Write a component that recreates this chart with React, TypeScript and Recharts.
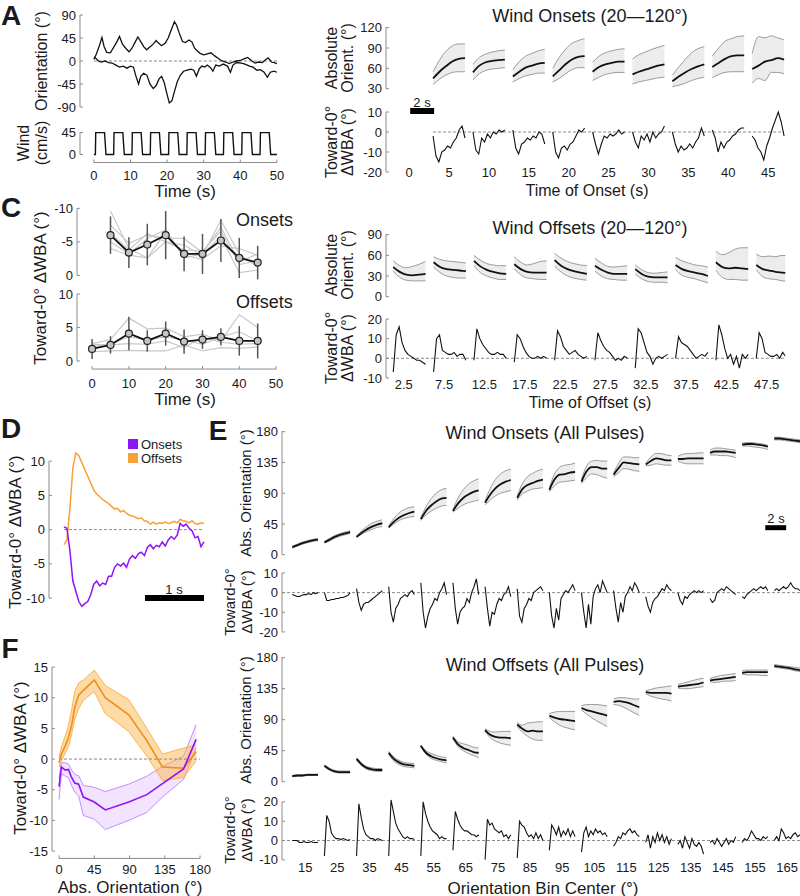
import React from "react";
import { ComposedChart, Line, Area, XAxis, YAxis, ReferenceLine, ErrorBar } from "recharts";

const FONT = "'Liberation Sans', Arial, Helvetica, sans-serif";
const INK = "#1a1a1a";
const AX = "#8c8c8c";
const DASH = "#8a8a8a";
const PURPLE = "#8f14f5";
const ORANGE = "#f8a03a";
const PAD = 40;
const YW = 44;

// ---- A: example trial (time s, orientation deg) ----
const TRACE_UP: [number, number][] = [
  [0, 3], [0.7, 14], [1.5, 30], [2.2, 46], [2.8, 28], [3.5, 17], [4.5, 16], [5.5, 28], [6.3, 38], [7, 48],
  [7.8, 33], [8.8, 24], [9.6, 18], [10.4, 25], [11.2, 36], [12, 47], [12.8, 38], [13.6, 28], [14.4, 22], [15.2, 27],
  [16.2, 33], [17, 40], [17.5, 36], [18.5, 30], [19.5, 35], [20.3, 45], [21.2, 62], [22, 77], [22.6, 70], [23.3, 55],
  [24.2, 38], [25, 36], [26, 41], [26.8, 37], [27.5, 25], [28.2, 20], [29, 15], [30, 12], [31, 14], [32, 16],
  [33, 10], [34, 5], [35, 0], [36, -2], [37, -5], [38, -2], [39, 0], [40, 1], [41, 4], [42, 7],
  [43, 1], [44, -4], [45, -2], [46, -3], [47, 3], [47.6, 6], [48.5, -2], [49.3, -3], [50, -5],
];
const TRACE_DOWN: [number, number][] = [
  [0, 8], [0.6, 5], [1.2, 0], [2, -2], [3, 0], [4, -3], [5, -4], [6, -8], [7, -12], [8, -10],
  [9, -14], [10, -10], [10.8, -12], [11.5, -30], [12.2, -45], [12.8, -30], [13.6, -24], [14.5, -28], [15.3, -45], [16.2, -54],
  [17, -48], [17.8, -35], [18.5, -30], [19.2, -42], [19.8, -60], [20.6, -82], [21.3, -78], [22, -60], [22.8, -40], [23.6, -28],
  [24.5, -20], [25.5, -18], [26.5, -16], [27.3, -18], [28, -30], [28.8, -15], [29.5, -10], [30.3, -12], [31, -8], [32, -14],
  [32.5, -20], [33.3, -8], [34.3, -10], [35.3, -6], [36.5, -10], [37.3, -22], [38, -8], [39, -3], [40.3, -4], [41.3, -6],
  [42.5, -10], [43.5, -12], [44.5, -18], [45.5, -17], [46.5, -22], [47.4, -32], [48.2, -22], [49.2, -20], [50, -22],
];
const WIND: [number, number][] = [
  [0, 0], [0.4, 0], [0.5, 45], [2.9, 45], [3.3, 0],
  [5.4, 0], [5.5, 45], [7.9, 45], [8.3, 0],
  [10.4, 0], [10.5, 45], [12.9, 45], [13.3, 0],
  [15.4, 0], [15.5, 45], [17.9, 45], [18.3, 0],
  [20.4, 0], [20.5, 45], [22.9, 45], [23.3, 0],
  [25.4, 0], [25.5, 45], [27.9, 45], [28.3, 0],
  [30.4, 0], [30.5, 45], [32.9, 45], [33.3, 0],
  [35.4, 0], [35.5, 45], [37.9, 45], [38.3, 0],
  [40.4, 0], [40.5, 45], [42.9, 45], [43.3, 0],
  [45.4, 0], [45.5, 45], [47.9, 45], [48.3, 0], [50, 0],
];

// ---- A right: wind onsets 20-120 deg ----
const ON20_T = [5, 10, 15, 20, 25, 30, 35, 40, 45];
const ON20_M = [
  [45, 55, 63, 70, 74, 75], [54, 64, 69, 71, 72, 73], [48, 55, 61, 64, 67, 68],
  [48, 57, 66, 73, 77, 78], [55, 62, 66, 68, 70, 70], [51, 55, 58, 61, 64, 66],
  [41, 48, 54, 59, 63, 66], [62, 68, 74, 78, 79, 79], [59, 64, 70, 72, 75, 73],
];
const ON20_HI = [
  [55, 72, 85, 93, 96, 96], [66, 76, 81, 84, 86, 87], [58, 70, 78, 82, 86, 88],
  [60, 76, 88, 97, 101, 104], [69, 78, 83, 86, 88, 89], [74, 80, 84, 88, 91, 94],
  [50, 62, 73, 83, 89, 92], [78, 90, 100, 104, 107, 108], [82, 107, 105, 108, 105, 102],
];
const ON20_LO = [
  [36, 44, 50, 54, 55, 55], [43, 52, 57, 59, 60, 61], [40, 45, 49, 51, 53, 53],
  [40, 45, 52, 58, 61, 61], [42, 47, 51, 53, 54, 54], [37, 40, 42, 44, 46, 47],
  [33, 35, 38, 42, 45, 47], [46, 51, 54, 55, 55, 55], [38, 45, 42, 54, 54, 52],
];
const ON20_WBA = [
  [-2, -12, -15, -10, -9, -7, -8, -5, -3, 1, 3, -3],
  [0, -9, -11, -3, -5, -1, -3, 0, -1, 1, 0, 1],
  [1, -8, -11, -6, -5, -3, -4, -2, -3, 0, -1, -6],
  [0, -10, -13, -8, -7, -9, -6, -5, -2, 1, 0, 2],
  [0, -6, -11, -6, -2, -3, -1, -2, -1, 1, -1, 0],
  [0, -5, -8, -2, -4, -1, -5, 0, -3, -1, 0, 3],
  [0, -6, -10, -7, -9, -8, -6, -8, -5, -3, 2, -2],
  [1, -3, -10, -5, -8, -5, -4, -2, -1, 1, 2, 2],
  [-2, -4, -8, -10, -14, -7, -3, 2, 6, 10, 5, -2],
];

// ---- C right: wind offsets 20-120 deg ----
const OFF20_T = [2.5, 7.5, 12.5, 17.5, 22.5, 27.5, 32.5, 37.5, 42.5, 47.5];
const OFF20_M = [
  [43, 36, 32, 31, 32, 33], [50, 43, 40, 39, 38, 37], [52, 44, 39, 36, 34, 33],
  [47, 40, 36, 35, 35, 35], [53, 45, 40, 37, 35, 33], [45, 39, 35, 33, 33, 33],
  [40, 33, 29, 28, 28, 28], [46, 40, 37, 35, 33, 30], [50, 43, 41, 42, 41, 40],
  [46, 40, 38, 36, 35, 34],
];
const OFF20_HI = [
  [52, 45, 42, 44, 47, 51], [58, 54, 52, 51, 50, 49], [60, 53, 48, 46, 45, 45],
  [58, 50, 46, 48, 51, 52], [63, 56, 51, 48, 46, 45], [56, 49, 44, 43, 44, 45],
  [46, 39, 35, 34, 35, 36], [57, 52, 49, 46, 45, 43], [66, 61, 64, 69, 71, 71],
  [62, 58, 59, 58, 60, 59],
];
const OFF20_LO = [
  [37, 28, 24, 23, 23, 23], [43, 35, 30, 28, 27, 27], [45, 35, 30, 27, 25, 25],
  [40, 32, 27, 26, 25, 25], [44, 36, 30, 27, 25, 24], [37, 30, 26, 25, 24, 24],
  [33, 26, 22, 21, 21, 20], [39, 31, 28, 26, 23, 20], [38, 28, 25, 25, 24, 24],
  [39, 29, 26, 25, 23, 22],
];
const OFF20_WBA = [
  [-7, 12, 16, 8, 4, 2, 1, 0, -1, -1, -2, -3],
  [-7, 10, 12, 4, 3, 2, 2, 3, 1, 2, 2, -1],
  [-1, 15, 10, 7, 5, 3, 2, 2, 3, 2, 2, 0],
  [-2, 12, 10, 6, 3, 1, 0, 0, 1, 0, 1, 0],
  [-1, 14, 11, 6, 4, 2, 3, 4, 2, 1, 0, 1],
  [-1, 13, 9, 6, 4, 3, 1, -1, 0, -1, 1, 0],
  [-5, 15, 13, 8, 3, 1, -3, 0, 1, 0, 1, 2],
  [0, 11, 8, 7, 6, 4, 2, 0, 1, 2, 1, 3],
  [-1, 17, 12, 5, 0, 2, -3, 1, -5, 2, 0, 2],
  [0, 13, 10, 3, 2, 1, 1, 2, 0, 3, 1, 2],
];

// ---- C left: per-pulse means ----
const C_ON_T = [5, 10, 15, 20, 25, 30, 35, 40, 45];
const C_ON_MEAN = [-6.0, -3.4, -4.6, -6.0, -3.2, -3.2, -5.2, -2.6, -1.9];
const C_ON_ERR = [2.8, 2.3, 3.1, 3.6, 2.6, 3.0, 3.2, 3.0, 2.5];
const C_ON_FLIES = [
  [-9.6, -4.0, -2.6, -5.0, -4.5, -3.0, -8.2, -3.2, -1.2],
  [-7.5, -4.8, -6.0, -5.6, -5.5, -3.4, -7.2, -2.0, -3.2],
  [-4.0, -3.0, -2.6, -6.5, -3.0, -2.4, -4.4, -4.0, -3.0],
  [-5.0, -3.2, -5.5, -6.8, -2.6, -3.2, -5.8, -0.4, -0.8],
  [-6.3, -3.8, -6.2, -5.0, -3.8, -3.6, -6.6, -1.6, -2.2],
];
const C_OFF_T = [0, 5, 10, 15, 20, 25, 30, 35, 40, 45];
const C_OFF_MEAN = [1.8, 2.4, 4.1, 3.0, 4.1, 2.9, 3.2, 3.6, 3.0, 3.0];
const C_OFF_ERR = [1.5, 1.3, 2.5, 1.6, 1.8, 1.8, 1.4, 1.3, 2.2, 2.6];
const C_OFF_FLIES = [
  [2.6, 3.2, 6.4, 4.8, 4.9, 3.6, 4.0, 3.0, 6.9, 5.0],
  [1.4, 1.5, 1.6, 1.5, 1.5, 2.4, 1.5, 2.0, 1.9, 2.1],
  [2.1, 2.6, 3.6, 3.2, 3.6, 3.1, 2.5, 3.6, 4.4, 3.0],
  [2.5, 2.4, 2.6, 2.5, 3.0, 2.0, 3.6, 2.8, 2.5, 2.6],
];

// ---- D: mean traces, 0.05 s samples ----
const D_ON = [
  0.4, 0.2, -3.0, -7.5, -9.0, -10.5, -11.2, -10.8, -10.5, -9.5,
  -8.0, -7.5, -8.2, -7.8, -8.0, -6.8, -6.8, -5.5, -5.0, -5.3,
  -4.9, -5.5, -4.3, -3.8, -4.2, -3.5, -3.3, -3.8, -2.6, -2.2,
  -2.8, -2.3, -2.5, -1.8, -2.4, -1.5, -1.0, -1.4, -0.8, 0.9,
  0.5, 0.8, 0.2, -0.2, -1.2, -1.0, -2.5, -1.8,
];
const D_OFF = [
  -2.2, -1.5, 3.0, 9.0, 11.2, 10.8, 9.8, 8.8, 7.8, 6.8,
  5.8, 5.2, 4.8, 4.4, 4.1, 3.8, 3.4, 3.0, 3.1, 2.6,
  2.8, 2.4, 2.1, 2.0, 1.8, 1.6, 1.7, 1.3, 1.2, 0.8,
  1.1, 0.8, 1.0, 0.9, 1.1, 0.9, 1.0, 1.2, 1.0, 1.5,
  1.3, 1.2, 1.0, 1.3, 0.9, 0.8, 1.0, 0.9,
];

// ---- E: all pulses by orientation bin ----
const E_BINS = [15, 25, 35, 45, 55, 65, 75, 85, 95, 105, 115, 125, 135, 145, 155, 165];
const E_ON_M = [
  [11, 14, 17, 19, 21, 22], [18, 22, 26, 29, 31, 33], [26, 32, 37, 41, 44, 46], [40, 48, 54, 58, 61, 63],
  [52, 64, 72, 78, 82, 83], [64, 75, 83, 88, 92, 94], [76, 88, 97, 103, 107, 109], [83, 96, 102, 105, 108, 110],
  [95, 110, 117, 118, 120, 121], [107, 122, 128, 128, 126, 126], [117, 127, 135, 134, 133, 132], [132, 137, 141, 140, 138, 138],
  [140, 140, 141, 141, 141, 141], [149, 151, 151, 151, 150, 149], [161, 162, 162, 161, 160, 158], [170, 170, 169, 168, 167, 166],
];
const E_ON_HI = [
  [12.5, 15.5, 18.5, 20.5, 22.5, 23.5], [19, 24, 28, 31, 33, 35], [27, 35, 41, 46, 49, 51], [42, 53, 61, 66, 69, 70],
  [54, 70, 82, 90, 95, 97], [66, 83, 95, 103, 108, 111], [79, 97, 110, 118, 123, 125], [86, 104, 114, 119, 123, 125],
  [98, 118, 128, 131, 132, 134], [110, 130, 137, 138, 137, 137], [120, 134, 143, 143, 142, 142], [134, 143, 148, 148, 146, 145],
  [144, 147, 148, 148, 149, 149], [153, 156, 156, 155, 154, 153], [163, 164, 164, 163, 162, 160], [172, 172, 171, 170, 169, 168],
];
const E_ON_LO = [
  [9.5, 12.5, 15.5, 17.5, 19.5, 20.5], [17, 20, 24, 27, 29, 31], [25, 30, 34, 37, 40, 41], [39, 45, 50, 53, 55, 56],
  [50, 58, 64, 68, 71, 72], [62, 68, 73, 76, 78, 80], [73, 80, 86, 90, 92, 94], [80, 89, 93, 96, 97, 98],
  [92, 101, 106, 107, 108, 109], [104, 113, 118, 117, 114, 112], [114, 120, 126, 125, 123, 122], [130, 131, 133, 132, 131, 131],
  [137, 134, 133, 133, 133, 133], [146, 146, 145, 145, 144, 142], [159, 159, 158, 157, 156, 154], [168, 168, 167, 166, 165, 164],
];
const E_ON_WBA = [
  [-1, -1.5, -2, -2, -1.5, -1, -1, -0.5, -1, 0, -0.5, 0],
  [0, -4, -4, -3.5, -3.5, -3, -3, -2.5, -2.5, -2, -1.5, 0],
  [2, -5, -9, -6, -5, -5, -4, -3, -2, -1, 0, 1],
  [3, -10, -15, -8, -6, -3, -2, -1, -2, 0, 1, -1],
  [5, -10, -18, -12, -8, -6, -3, -4, 0, 2, 5, -1],
  [5, -8, -16, -10, -8, -7, -3, -5, 0, 3, 7, -1],
  [3, -8, -17, -10, -11, -6, -3, -4, -1, 0, 3, -2],
  [2, -12, -15, -8, -6, -3, -4, 0, 1, 2, 3, 1],
  [0, -12, -18, -8, -14, -3, -1, 1, 0, 2, 4, 1],
  [0, -10, -18, -6, -16, -2, 2, 4, 0, 6, 3, 0],
  [1, -8, -15, -5, -10, -2, 0, 3, 1, 5, 3, 0],
  [-2, -7, -10, -5, -3, -2, 0, 2, 1, 4, 2, 1],
  [0, -4, -6, -2, -3, -1, 0, 1, 0, 1, 0, 1],
  [-3, -5, -4, 0, 1, 2, 1, 3, 2, 1, 0, -1],
  [-2, -3, -1, 0, 1, 2, 1, 2, 3, 2, 3, 1],
  [1, 2, 1, 2, 3, 2, 3, 5, 3, 2, 2, 1],
];
const E_OFF_M = [
  [8, 9, 9, 10, 10, 10], [23, 18, 15, 14, 14, 14], [33, 25, 20, 18, 17, 17], [42, 33, 28, 25, 24, 23],
  [52, 42, 37, 34, 32, 31], [64, 54, 49, 46, 43, 42], [75, 68, 65, 64, 64, 63], [83, 77, 73, 74, 73, 73],
  [96, 93, 91, 90, 89, 88], [107, 104, 102, 100, 98, 96], [116, 117, 116, 114, 111, 108], [130, 129, 129, 129, 129, 128],
  [138, 139, 140, 141, 142, 144], [147, 148, 149, 150, 151, 152], [158, 159, 159, 159, 159, 159], [168, 167, 166, 165, 163, 162],
];
const E_OFF_HI = [
  [9, 10, 10, 11, 11, 11], [24.5, 19.5, 16.5, 15.5, 15.5, 15.5], [35, 27, 22, 20, 19, 19], [44, 36, 31, 28, 27, 26],
  [53, 45, 41, 38, 36, 35], [66, 58, 55, 53, 50, 49], [77, 73, 72, 73, 73, 73], [86, 82, 85, 86, 87, 87],
  [99, 101, 102, 102, 102, 102], [110, 112, 112, 112, 111, 110], [120, 122, 122, 121, 120, 120], [132, 134, 136, 137, 138, 139],
  [141, 143, 145, 147, 149, 150], [150, 152, 154, 155, 156, 157], [161, 162, 162, 162, 162, 162], [170, 169, 168, 167, 166, 165],
];
const E_OFF_LO = [
  [7, 8, 8, 9, 9, 9], [21.5, 16.5, 13.5, 12.5, 12.5, 12.5], [31, 23, 18, 16, 15, 15], [40, 30, 25, 22, 21, 20],
  [51, 40, 34, 31, 29, 27], [62, 51, 45, 41, 38, 35], [73, 64, 59, 56, 54, 53], [80, 72, 66, 62, 60, 60],
  [93, 87, 82, 79, 77, 75], [104, 98, 93, 88, 84, 80], [112, 111, 108, 104, 100, 96], [128, 124, 122, 120, 119, 117],
  [136, 135, 135, 136, 137, 138], [145, 144, 145, 146, 146, 147], [156, 155, 155, 155, 154, 154], [166, 165, 164, 163, 161, 160],
];
const E_OFF_WBA = [
  [0, 0, 0, -1, -1, -0.5, -1, -1, -0.5, -1, -1, -1],
  [-8, 13, 10, 4, 2, 1, 1, 0.5, 1, 0.5, 0, 0.5],
  [-8, 19, 12, 6, 3, 2, 1, 1, 0, 1, 0.5, 0],
  [-8, 21, 15, 9, 6, 4, 2, 1, 2, 1, 1, 0.5],
  [-8, 20, 14, 10, 7, 5, 4, 3, 1, 2, 1, 1],
  [-5, 15, 11, 8, 6, 5, 5, 4, 3, 3, 2, 3],
  [-10, 11, 8, 9, 6, 5, 4, 5, 2, 3, 1, 3],
  [-9, 10, 8, 7, 4, 2, 3, 1, 4, 1, 3, 0],
  [-5, 8, 6, 3, 7, 2, 5, 3, 6, 2, 5, 2],
  [-6, 4, 7, 2, 5, 3, 6, 4, 5, 3, 4, 2],
  [-3, -1, 2, 1, 4, 3, 5, 6, 4, 5, 3, 2],
  [-1, 3, -4, 2, -1, 4, 0, 3, -1, 2, -2, 1],
  [-2, 0, -4, 2, -1, -4, 1, -2, -3, -1, -3, -7],
  [-1, 0, -2, 1, -1, -3, -1, 1, -2, 0, -1, 2],
  [-1, 1, 0, 2, 5, 3, 1, 1, 0, 2, 1, 2],
  [0, 2, 0, 6, 4, 1, 2, 1, 3, 4, 2, 3],
];

// ---- F: response vs absolute orientation ----
const F_X = [0, 3, 8, 12, 16, 20, 25, 31, 45, 59, 89, 112, 132, 159, 175];
const F_ON_M = [-4.5, -1.3, -1.8, -1.7, -3.0, -3.9, -4.1, -6.2, -7.0, -8.3, -7.0, -5.8, -4.0, -1.6, 3.2];
const F_ON_HI = [-3.2, -0.6, -0.6, -0.8, -1.8, -2.5, -2.7, -4.3, -4.6, -5.3, -4.1, -2.8, -1.2, 0.5, 5.6];
const F_ON_LO = [-6.6, -2.4, -2.8, -3.0, -4.3, -5.4, -6.0, -9.2, -9.8, -11.5, -10.0, -8.7, -6.2, -3.3, 1.8];
const F_OFF_M = [-0.6, 0.8, 2.2, 3.5, 5.5, 8.4, 10.4, 11.2, 12.9, 10.0, 7.2, 3.0, -1.3, -1.5, 1.2];
const F_OFF_HI = [0.2, 2.0, 3.8, 5.5, 8.0, 11.0, 12.4, 12.9, 14.5, 12.0, 9.7, 5.0, 0.8, 1.8, 2.3];
const F_OFF_LO = [-1.3, -0.3, 1.0, 2.0, 4.0, 6.5, 8.2, 9.6, 11.0, 7.4, 4.5, 0.5, -3.5, -3.0, -0.3];

// ---------- helpers ----------
type Cal = [number, number, number, number];
const toPx = (v: number, c: Cal) => c[1] + ((v - c[0]) * (c[3] - c[1])) / (c[2] - c[0]);

function segTable(centers: number[], from: number, to: number, cols: Record<string, number[][]>) {
  const rows: Record<string, number>[] = [];
  const keys = Object.keys(cols);
  centers.forEach((c, i) => {
    const n = cols[keys[0]][i].length;
    for (let j = 0; j < n; j++) {
      const row: Record<string, number> = { x: c + from + ((to - from) * j) / (n - 1) };
      keys.forEach((k) => (row[k] = cols[k][i][j]));
      rows.push(row);
    }
    rows.push({ x: c + to + 0.05 });
  });
  return rows;
}

const pairs = (list: [number, number][], key: string) => list.map(([x, v]) => ({ x, [key]: v }));
const bandOf = (lo: string, hi: string) => (d: any) => (d[lo] == null ? undefined : [d[lo], d[hi]]);

function meanBand() {
  return [
    <Area key="band" type="monotone" dataKey={bandOf("lo", "hi")} stroke="#9b9b9b" strokeWidth={1}
      fill="#ececec" fillOpacity={1} dot={false} activeDot={false} isAnimationActive={false} />,
    <Line key="mean" type="monotone" dataKey="m" stroke="#111" strokeWidth={1.8}
      dot={false} activeDot={false} isAnimationActive={false} />,
  ];
}
const wbaLine = (
  <Line type="linear" dataKey="w" stroke="#111" strokeWidth={1.1} dot={false} activeDot={false} isAnimationActive={false} />
);

type FrameProps = {
  data: object[];
  xd: [number, number];
  xc: Cal;
  yd: [number, number];
  yc: Cal;
  yTicks: number[];
  yLine?: [number, number];
  reversed?: boolean;
  xTicks?: number[];
  xLine?: [number, number];
  xLabelY?: number;
  zero?: [number, number];
  children?: React.ReactNode;
};

function Frame(p: FrameProps) {
  const left = toPx(p.xd[0], p.xc);
  const right = toPx(p.xd[1], p.xc);
  const ya = toPx(p.yd[0], p.yc);
  const yb = toPx(p.yd[1], p.yc);
  const top = Math.min(ya, yb);
  const bottom = Math.max(ya, yb);
  const low = p.yd[0];
  const axisH = p.xTicks ? 1 : 0;
  const xTick = (t: any) => (
    <text x={t.x} y={(p.xLabelY ?? 0) - top + PAD} textAnchor="middle" dominantBaseline="central"
      fontSize={13} fill={INK} fontFamily={FONT}>
      {t.payload.value}
    </text>
  );
  return (
    <div style={{ position: "absolute", left: left - YW, top: top - PAD }}>
      <ComposedChart width={YW + right - left + PAD} height={bottom - top + 2 * PAD} data={p.data}
        margin={{ top: PAD, right: PAD, bottom: PAD - axisH, left: 0 }}>
        <XAxis dataKey="x" type="number" domain={p.xd} allowDataOverflow hide={!p.xTicks} ticks={p.xTicks}
          interval={0} height={axisH} axisLine={false} tickLine={p.xLine ? { stroke: AX } : false}
          tickSize={p.xLine ? -3 : 0} tickMargin={0} tick={xTick} />
        <YAxis type="number" domain={p.yd} allowDataOverflow reversed={p.reversed} ticks={p.yTicks} interval={0}
          width={YW} axisLine={p.yLine ? false : { stroke: AX }} tickLine={{ stroke: AX }} tickSize={-3}
          tickMargin={7} tick={{ fontSize: 13, fill: INK, fontFamily: FONT }} />
        {p.yLine && (
          <ReferenceLine segment={[{ x: p.xd[0], y: p.yLine[0] }, { x: p.xd[0], y: p.yLine[1] }]}
            stroke={AX} ifOverflow="visible" />
        )}
        {p.xLine && (
          <ReferenceLine segment={[{ x: p.xLine[0], y: low }, { x: p.xLine[1], y: low }]}
            stroke={AX} ifOverflow="visible" />
        )}
        {p.zero && (
          <ReferenceLine segment={[{ x: p.zero[0], y: 0 }, { x: p.zero[1], y: 0 }]}
            stroke={DASH} strokeDasharray="3 2" ifOverflow="visible" />
        )}
        {p.children}
      </ComposedChart>
    </div>
  );
}

function Label(props: { x: number; y: number; size?: number; anchor?: "start" | "middle" | "end"; bold?: boolean; rotate?: boolean; children: React.ReactNode }) {
  const { x, y, size = 16, anchor = "middle", bold = false, rotate = false } = props;
  return (
    <text x={rotate ? 0 : x} y={rotate ? 0 : y} transform={rotate ? `translate(${x},${y}) rotate(-90)` : undefined}
      textAnchor={anchor} dominantBaseline="central" fontSize={size} fontWeight={bold ? 700 : 400}
      fill={INK} fontFamily={FONT}>
      {props.children}
    </text>
  );
}

// ---------- tables ----------
const traceRows = [...pairs(TRACE_UP, "a"), ...pairs(TRACE_DOWN, "b")].sort((p, q) => p.x - q.x);
const windRows = pairs(WIND, "w");
const on20Abs = segTable(ON20_T, -2, 2, { m: ON20_M, hi: ON20_HI, lo: ON20_LO });
const on20Wba = segTable(ON20_T, -2, 2, { w: ON20_WBA });
const off20Abs = segTable(OFF20_T, -1.3, 2.7, { m: OFF20_M, hi: OFF20_HI, lo: OFF20_LO });
const off20Wba = segTable(OFF20_T, -1.3, 2.7, { w: OFF20_WBA });
const cOnRows = C_ON_T.map((x, i) => {
  const row: Record<string, number> = { x, m: C_ON_MEAN[i], e: C_ON_ERR[i] };
  C_ON_FLIES.forEach((f, k) => (row["g" + k] = f[i]));
  return row;
});
const cOffRows = C_OFF_T.map((x, i) => {
  const row: Record<string, number> = { x, m: C_OFF_MEAN[i], e: C_OFF_ERR[i] };
  C_OFF_FLIES.forEach((f, k) => (row["g" + k] = f[i]));
  return row;
});
const dRows = D_ON.map((v, i) => ({ x: i * 0.05, on: v, off: D_OFF[i] }));
const eOnAbs = segTable(E_BINS, -4, 4, { m: E_ON_M, hi: E_ON_HI, lo: E_ON_LO });
const eOnWba = segTable(E_BINS, -4, 4, { w: E_ON_WBA });
const eOffAbs = segTable(E_BINS, -4, 4, { m: E_OFF_M, hi: E_OFF_HI, lo: E_OFF_LO });
const eOffWba = segTable(E_BINS, -4, 4, { w: E_OFF_WBA });
const fRows = F_X.map((x, i) => ({
  x, pm: F_ON_M[i], phi: F_ON_HI[i], plo: F_ON_LO[i], om: F_OFF_M[i], ohi: F_OFF_HI[i], olo: F_OFF_LO[i],
}));

const flyLines = (n: number) =>
  Array.from({ length: n }, (_, k) => (
    <Line key={"g" + k} type="linear" dataKey={"g" + k} stroke="#c8c8c8" strokeWidth={1.2} dot={false}
      activeDot={false} isAnimationActive={false} />
  ));
const meanWithErr = (
  <Line type="linear" dataKey="m" stroke="#111" strokeWidth={1.8} isAnimationActive={false} activeDot={false}
    dot={{ r: 3.5, fill: "#c4c4c4", stroke: "#222", strokeWidth: 1.2 }}>
    <ErrorBar dataKey="e" width={0} stroke="#555" strokeWidth={1.5} direction="y" />
  </Line>
);

const A_X: Cal = [0, 94, 50, 277];
const C_X: Cal = [0, 92, 50, 276];
const AR_X: Cal = [0, 409, 45, 768];
const CR_X: Cal = [2.5, 404, 47.5, 767];
const E_X: Cal = [15, 305, 165, 787];

export default function App() {
  return (
    <div style={{ position: "absolute", left: 0, top: 0, width: 800, height: 896, overflow: "hidden", background: "#fff" }}>
      {/* A left */}
      <Frame data={traceRows} xd={[-3.8, 50.5]} xc={A_X} yd={[-90, 90]} yc={[90, 15, -90, 107]}
        yTicks={[-90, -45, 0, 45, 90]} zero={[0, 50]}>
        <Line type="linear" dataKey="a" connectNulls stroke="#111" strokeWidth={1.3} dot={false} activeDot={false} isAnimationActive={false} />
        <Line type="linear" dataKey="b" connectNulls stroke="#111" strokeWidth={1.3} dot={false} activeDot={false} isAnimationActive={false} />
      </Frame>
      <Frame data={windRows} xd={[-3.8, 50.5]} xc={A_X} yd={[-16.4, 46]} yc={[45, 132, 0, 154]}
        yTicks={[0, 45]} yLine={[0, 45]} xTicks={[0, 10, 20, 30, 40, 50]} xLine={[0, 50]} xLabelY={175}>
        <Line type="linear" dataKey="w" stroke="#111" strokeWidth={1.4} dot={false} activeDot={false} isAnimationActive={false} />
      </Frame>

      {/* A right */}
      <Frame data={on20Abs} xd={[-2.9, 47.3]} xc={AR_X} yd={[30, 121]} yc={[120, 28, 30, 89]} yTicks={[30, 60, 90, 120]}>
        {meanBand()}
      </Frame>
      <Frame data={on20Wba} xd={[-2.9, 47.3]} xc={AR_X} yd={[-20, 12.5]} yc={[10, 112, -20, 172]}
        yTicks={[-20, -10, 0, 10]} yLine={[-20, 10]} xTicks={[0, 5, 10, 15, 20, 25, 30, 35, 40, 45]} xLabelY={173} zero={[3, 47]}>
        {wbaLine}
        <ReferenceLine segment={[{ x: 0.13, y: 10.5 }, { x: 3.13, y: 10.5 }]} stroke="#000" strokeWidth={6} ifOverflow="visible" />
      </Frame>

      {/* C left */}
      <Frame data={cOnRows} xd={[-4.1, 50.5]} xc={C_X} yd={[-10.8, 1.8]} yc={[-10, 208, 0, 275]}
        yTicks={[-10, -5, 0]} yLine={[-10, 0]} reversed>
        {flyLines(C_ON_FLIES.length)}
        {meanWithErr}
      </Frame>
      <Frame data={cOffRows} xd={[-4.1, 50.5]} xc={C_X} yd={[-1.2, 10.3]} yc={[10, 294, 0, 361]}
        yTicks={[0, 5, 10]} yLine={[0, 10]} xTicks={[0, 10, 20, 30, 40, 50]} xLine={[0, 50]} xLabelY={383}>
        {flyLines(C_OFF_FLIES.length)}
        {meanWithErr}
      </Frame>

      {/* C right */}
      <Frame data={off20Abs} xd={[0.3, 49.8]} xc={CR_X} yd={[0, 91]} yc={[90, 235, 0, 297]} yTicks={[0, 30, 60, 90]}>
        {meanBand()}
      </Frame>
      <Frame data={off20Wba} xd={[0.3, 49.8]} xc={CR_X} yd={[-10, 20.5]} yc={[20, 319, -10, 378]}
        yTicks={[-10, 0, 10, 20]} yLine={[-10, 20]} xTicks={OFF20_T} xLabelY={385} zero={[0.3, 49.8]}>
        {wbaLine}
      </Frame>

      {/* D */}
      <Frame data={dRows} xd={[-0.25, 2.4]} xc={[-0.25, 49, 2.35, 204]} yd={[-12.5, 12.5]} yc={[10, 461, -10, 598]}
        yTicks={[-10, -5, 0, 5, 10]} yLine={[-10, 10]} zero={[0, 2.35]}>
        <Line type="linear" dataKey="off" stroke={ORANGE} strokeWidth={1.5} dot={false} activeDot={false} isAnimationActive={false} />
        <Line type="linear" dataKey="on" stroke={PURPLE} strokeWidth={1.5} dot={false} activeDot={false} isAnimationActive={false} />
        <ReferenceLine segment={[{ x: 1.36, y: -10 }, { x: 2.35, y: -10 }]} stroke="#000" strokeWidth={6} ifOverflow="visible" />
      </Frame>

      {/* E onsets */}
      <Frame data={eOnAbs} xd={[7.8, 169.5]} xc={E_X} yd={[0, 181]} yc={[180, 432, 0, 555]} yTicks={[0, 45, 90, 135, 180]}>
        {meanBand()}
        <ReferenceLine segment={[{ x: 158.2, y: 39.5 }, { x: 164.7, y: 39.5 }]} stroke="#000" strokeWidth={5} ifOverflow="visible" />
      </Frame>
      <Frame data={eOnWba} xd={[7.8, 169.5]} xc={E_X} yd={[-20, 11]} yc={[10, 573, -20, 632]}
        yTicks={[-20, -10, 0, 10]} yLine={[-20, 10]} zero={[7.8, 169.5]}>
        {wbaLine}
      </Frame>

      {/* E offsets */}
      <Frame data={eOffAbs} xd={[7.8, 169.5]} xc={E_X} yd={[0, 181]} yc={[180, 658, 0, 782]} yTicks={[0, 45, 90, 135, 180]}>
        {meanBand()}
      </Frame>
      <Frame data={eOffWba} xd={[7.8, 169.5]} xc={E_X} yd={[-10, 22]} yc={[20, 802, -10, 860]}
        yTicks={[-10, 0, 10, 20]} yLine={[-10, 20]} xTicks={E_BINS} xLabelY={868} zero={[7.8, 169.5]}>
        {wbaLine}
      </Frame>

      {/* F */}
      <Frame data={fRows} xd={[-9, 181]} xc={[0, 59, 180, 200]} yd={[-16.2, 15.5]} yc={[15, 667, -15, 851]}
        yTicks={[-15, -10, -5, 0, 5, 10, 15]} yLine={[-15, 15]} xTicks={[0, 45, 90, 135, 180]} xLine={[0, 180]}
        xLabelY={869} zero={[0, 180]}>
        <Area type="linear" dataKey={bandOf("plo", "phi")} stroke="#c48cff" strokeWidth={1} fill="#d9b0ff"
          fillOpacity={0.35} dot={false} activeDot={false} isAnimationActive={false} />
        <Area type="linear" dataKey={bandOf("olo", "ohi")} stroke="#f9b44c" strokeWidth={1} fill="#fbb84d"
          fillOpacity={0.5} dot={false} activeDot={false} isAnimationActive={false} />
        <Line type="linear" dataKey="om" stroke="#f28a1e" strokeWidth={1.6} dot={false} activeDot={false} isAnimationActive={false} />
        <Line type="linear" dataKey="pm" stroke={PURPLE} strokeWidth={1.6} dot={false} activeDot={false} isAnimationActive={false} />
      </Frame>

      {/* text overlay */}
      <svg width={800} height={896} style={{ position: "absolute", left: 0, top: 0, pointerEvents: "none" }}>
        <Label x={11} y={15} size={28} bold>A</Label>
        <Label x={11} y={207} size={28} bold>C</Label>
        <Label x={11} y={428} size={28} bold>D</Label>
        <Label x={218} y={430} size={28} bold>E</Label>
        <Label x={10} y={648} size={28} bold>F</Label>

        <Label x={41} y={61} rotate>Orientation (°)</Label>
        <Label x={23} y={143} rotate>Wind</Label>
        <Label x={41} y={143} rotate>(cm/s)</Label>
        <Label x={185} y={191} size={17}>Time (s)</Label>

        <Label x={590} y={16} size={18}>Wind Onsets (20—120°)</Label>
        <Label x={331} y={58} rotate>Absolute</Label>
        <Label x={347} y={58} rotate>Orient. (°)</Label>
        <Label x={331} y={142} rotate>Toward-0°</Label>
        <Label x={347} y={142} rotate>ΔWBA (°)</Label>
        <Label x={422} y={102} size={13}>2 s</Label>
        <Label x={587} y={190} size={16}>Time of Onset (s)</Label>

        <Label x={236} y={220} size={18} anchor="start">Onsets</Label>
        <Label x={236} y={302} size={18} anchor="start">Offsets</Label>
        <Label x={40} y={288} size={17} rotate>Toward-0° ΔWBA (°)</Label>
        <Label x={185} y={399} size={17}>Time (s)</Label>

        <Label x={590} y={228} size={18}>Wind Offsets (20—120°)</Label>
        <Label x={331} y={265} rotate>Absolute</Label>
        <Label x={347} y={265} rotate>Orient. (°)</Label>
        <Label x={331} y={348} rotate>Toward-0°</Label>
        <Label x={347} y={348} rotate>ΔWBA (°)</Label>
        <Label x={590} y={402} size={16}>Time of Offset (s)</Label>

        <rect x={128} y={439} width={10} height={10} fill={PURPLE} />
        <Label x={141} y={444} size={13} anchor="start">Onsets</Label>
        <rect x={128} y={453} width={10} height={10} fill={ORANGE} />
        <Label x={141} y={458} size={13} anchor="start">Offsets</Label>
        <Label x={15} y={532} size={17} rotate>Toward-0° ΔWBA (°)</Label>
        <Label x={174} y={589} size={13}>1 s</Label>

        <Label x={545} y={433} size={18}>Wind Onsets (All Pulses)</Label>
        <Label x={245} y={493} size={15} rotate>Abs. Orientation (°)</Label>
        <Label x={229} y={602} size={15} rotate>Toward-0°</Label>
        <Label x={246} y={602} size={15} rotate>ΔWBA (°)</Label>
        <Label x={776} y={518} size={13}>2 s</Label>

        <Label x={545} y={665} size={18}>Wind Offsets (All Pulses)</Label>
        <Label x={245} y={720} size={15} rotate>Abs. Orientation (°)</Label>
        <Label x={229} y={830} size={15} rotate>Toward-0°</Label>
        <Label x={246} y={830} size={15} rotate>ΔWBA (°)</Label>
        <Label x={543} y={888} size={17}>Orientation Bin Center (°)</Label>

        <Label x={20} y={758} size={17} rotate>Toward-0° ΔWBA (°)</Label>
        <Label x={130} y={887} size={17}>Abs. Orientation (°)</Label>
      </svg>
    </div>
  );
}
